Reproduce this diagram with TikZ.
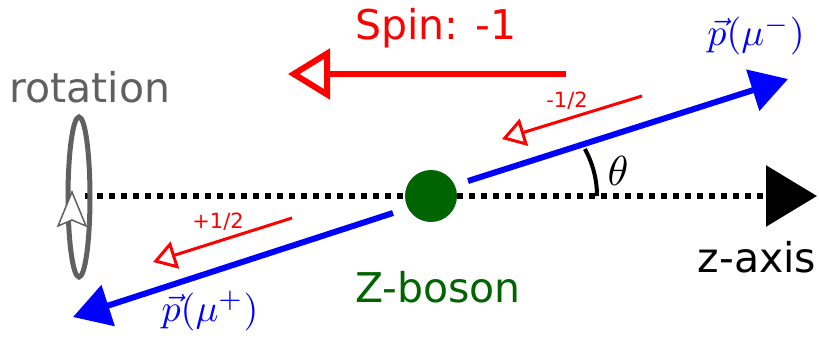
\documentclass[tikz,border=0pt]{standalone}
\usepackage{fontspec}
\setmainfont{DejaVu Sans}
\usetikzlibrary{arrows.meta}
\definecolor{zgreen}{RGB}{0,100,0}
\definecolor{rotgray}{RGB}{96,96,96}
\begin{document}
\begin{tikzpicture}[x=1pt,y=1pt,
  big/.style={font=\fontsize{41}{48}\selectfont, inner sep=0pt, anchor=base},
  smalllbl/.style={font=\fontsize{21}{25}\selectfont, inner sep=0pt, anchor=base, text=red},
  mathlbl/.style={font=\fontsize{10}{12}\selectfont, inner sep=0pt, anchor=base, text=blue, scale=3.8, transform shape},
  momentum/.style={blue, line width=6pt, -{Triangle[length=37pt,width=42pt]}},
  halfspin/.style={red, line width=3pt, -{Triangle[open,length=23pt,width=28pt]}},
  totalspin/.style={red, line width=6pt, -{Triangle[open,length=42pt,width=50pt]}},
]
\useasboundingbox (0,0) rectangle (819,338);
% coordinates
\coordinate (axS) at (85,142);
\coordinate (axE) at (817,142);
\coordinate (mmS) at (468,157);
\coordinate (mmE) at (788,259);
\coordinate (mpS) at (393,125);
\coordinate (mpE) at (73,21);
\coordinate (spS) at (566,264);
\coordinate (spE) at (288,264);
\coordinate (hmS) at (642,242);
\coordinate (hmE) at (502,199);
\coordinate (hpS) at (292,120);
\coordinate (hpE) at (153,76);
% z axis
\draw[line width=6pt, dash pattern=on 6pt off 6pt, -{Triangle[length=51pt,width=60pt]}] (axS) -- (axE);
% rotation
\draw[rotgray, line width=5pt] (79,141) ellipse [x radius=11, y radius=80];
\filldraw[draw=rotgray, fill=white, line width=1.5pt, line join=miter]
  (72,146) -- (58,112) -- (72,118) -- (86,112) -- cycle;
\node[big, text=rotgray] (rot) at (90,236) {rotation};
% boson
\node[circle, fill=zgreen, minimum size=52pt, inner sep=0pt] (Z) at (431,142) {};
\node[big, text=zgreen] (Zl) at (438,36) {Z-boson};
% momenta
\draw[momentum] (mmS) -- (mmE);
\draw[momentum] (mpS) -- (mpE);
\node[mathlbl] (pm) at (756,292) {$\vec{p}(\mu^-)$};
\node[mathlbl] (pp) at (210,17) {$\vec{p}(\mu^+)$};
% spins
\draw[totalspin] (spS) -- (spE);
\node[big, text=red] (spl) at (436,298) {Spin: -1};
\draw[halfspin] (hmS) -- (hmE);
\node[smalllbl] (hml) at (567,230) {-1/2};
\draw[halfspin] (hpS) -- (hpE);
\node[smalllbl] (hpl) at (218,110) {+1/2};
% angle
\draw[line width=4pt] (597,142) arc[start angle=0, end angle=29, radius=97];
\node[font=\fontsize{10}{12}\selectfont, inner sep=0pt, anchor=base, scale=4.2, transform shape] (th) at (618,153) {$\theta$};
% z-axis label
\node[big] (zl) at (757,66) {z-axis};
\end{tikzpicture}
\end{document}
